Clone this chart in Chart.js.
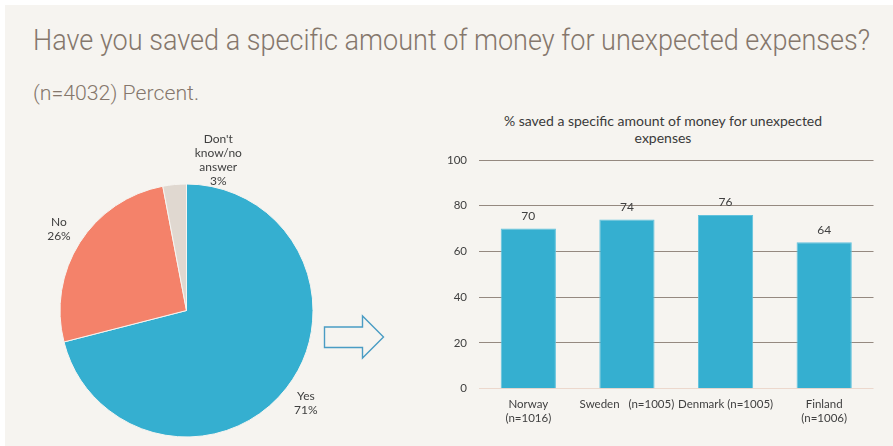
<!DOCTYPE html>
<html>
<head>
<meta charset="utf-8">
<script src="https://cdn.jsdelivr.net/npm/chart.js@4.4.1/dist/chart.umd.min.js"></script>
<style>
  html, body { margin: 0; padding: 0; background: #ffffff; }
  #page { position: relative; width: 893px; height: 446px; overflow: hidden; }
  #panel { position: absolute; left: 5px; top: 5px; right: 0; bottom: 0; background: #f6f4f0; }
  .heading { position: absolute; left: 33px; white-space: nowrap; font-family: Roboto, sans-serif;
             font-weight: 300; color: #85776c; transform-origin: 0 0; line-height: 1; }
  #title { top: 26px; font-size: 29px; }
  #subtitle { top: 83px; font-size: 20px; }
  #barTitle { position: absolute; left: 413px; width: 500px; top: 112px; text-align: center;
              font-family: Lato, sans-serif; font-size: 14px; line-height: 17px; color: #3a3a3a; }
  canvas.full { position: absolute; left: 0; top: 0; }
  #arrow { position: absolute; left: 0; top: 0; }
</style>
</head>
<body>
<div id="page">
  <div id="panel"></div>
  <div id="title" class="heading">Have you saved a specific amount of money for unexpected expenses?</div>
  <div id="subtitle" class="heading">(n=4032) Percent.</div>
  <div id="barTitle">% saved a specific amount of money for unexpected<br>expenses</div>
  <svg id="arrow" width="893" height="446">
    <polygon points="324.5,327 362.5,327 362.5,316 383.5,337 362.5,358 362.5,347.5 324.5,347.5"
             fill="none" stroke="#4a9cc4" stroke-width="1.4" stroke-linejoin="miter"/>
  </svg>
  <div style="position:absolute;left:0;top:0;width:893px;height:446px;">
    <canvas id="pie" class="full" width="893" height="446"></canvas>
  </div>
  <div style="position:absolute;left:0;top:0;width:893px;height:446px;">
    <canvas id="bars" class="full" width="893" height="446"></canvas>
  </div>
</div>
<script>
// Overall answer split (percent)
const answerNames = [['Yes'], ['No'], ["Don't", 'know/no', 'answer']];
const answerShares = [71, 26, 3];
const answerColors = ['#35afd0', '#f4826a', '#e0d8d0'];

// Share who saved, per country
const countryLabels = [['Norway', '(n=1016)'], 'Sweden   (n=1005)', 'Denmark (n=1005)', ['Finland', '(n=1006)']];
const countrySaved = [70, 74, 76, 64];

// Y axis ticks
const yTickMin = 0;
const yTickMax = 100;
const yTickStep = 20;

// Squeeze the headings to the narrow typeface width
function fitHeading(id, target) {
  const el = document.getElementById(id);
  const w = el.getBoundingClientRect().width;
  el.style.transform = 'scaleX(' + (target / w) + ')';
}
fitHeading('title', 837);
fitHeading('subtitle', 166);

const labelFont = '12px Lato, sans-serif';
const labelColor = '#404040';

// Outside labels for the pie slices, placed along each slice's middle angle
const pieLabelPlugin = {
  id: 'pieLabels',
  afterDatasetsDraw(chart, args, opts) {
    const ctx = chart.ctx;
    const meta = chart.getDatasetMeta(0);
    const data = chart.data.datasets[0].data;
    ctx.save();
    ctx.font = labelFont;
    ctx.fillStyle = labelColor;
    ctx.textAlign = 'center';
    ctx.textBaseline = 'middle';
    meta.data.forEach((arc, i) => {
      const mid = (arc.startAngle + arc.endAngle) / 2;
      const r = arc.outerRadius * opts.radiusFactor;
      const shift = (opts.shiftX && opts.shiftX[i]) || 0;
      const cx = arc.x + Math.cos(mid) * r + shift;
      const cy = arc.y + Math.sin(mid) * r;
      const lines = chart.data.labels[i].concat([data[i] + '%']);
      const lh = opts.lineHeight;
      const top = cy - (lines.length - 1) * lh / 2;
      lines.forEach((t, k) => ctx.fillText(t, cx, top + k * lh));
    });
    ctx.restore();
  }
};

new Chart(document.getElementById('pie'), {
  type: 'pie',
  data: {
    labels: answerNames,
    datasets: [{
      data: answerShares,
      backgroundColor: answerColors,
      borderColor: '#f6f4f0',
      borderWidth: 1
    }]
  },
  options: {
    responsive: false,
    animation: false,
    events: [],
    layout: { padding: { left: 59.5, top: 183.5, right: 579.5, bottom: 8.5 } },
    plugins: {
      legend: { display: false },
      tooltip: { enabled: false },
      pieLabels: { radiusFactor: 1.194, lineHeight: 14, shiftX: [0, 0, 46] }
    }
  },
  plugins: [pieLabelPlugin]
});

// Value labels above each bar
const barValuePlugin = {
  id: 'barValues',
  afterDatasetsDraw(chart) {
    const ctx = chart.ctx;
    const meta = chart.getDatasetMeta(0);
    const data = chart.data.datasets[0].data;
    ctx.save();
    ctx.font = labelFont;
    ctx.fillStyle = labelColor;
    ctx.textAlign = 'center';
    ctx.textBaseline = 'middle';
    meta.data.forEach((bar, i) => ctx.fillText(String(data[i]), bar.x, bar.y - 12.5));
    ctx.restore();
  }
};

new Chart(document.getElementById('bars'), {
  type: 'bar',
  data: {
    labels: countryLabels,
    datasets: [{
      data: countrySaved,
      backgroundColor: '#35afd0',
      borderColor: '#62c2dd',
      borderWidth: 1,
      barPercentage: 0.56,
      categoryPercentage: 1
    }]
  },
  options: {
    responsive: false,
    animation: false,
    events: [],
    layout: { padding: { left: 420, top: 160, right: 19.5, bottom: 17.3 } },
    plugins: {
      legend: { display: false },
      tooltip: { enabled: false }
    },
    scales: {
      x: {
        grid: { display: false, drawTicks: false },
        border: { display: false },
        ticks: { font: { family: 'Lato, sans-serif', size: 11.5, lineHeight: 1.22 }, color: labelColor,
                 padding: 9, maxRotation: 0, autoSkip: false },
        afterFit: s => { s.height = 40; }
      },
      y: {
        min: yTickMin,
        max: yTickMax,
        ticks: { stepSize: yTickStep, font: { family: 'Lato, sans-serif', size: 11.5 }, color: labelColor, padding: 12 },
        grid: {
          drawTicks: false,
          lineWidth: 1,
          color: c => (c.tick && c.tick.value === 0) ? '#ecd8cd' : '#958980'
        },
        border: { display: false },
        afterFit: s => { s.width = 59; }
      }
    }
  },
  plugins: [barValuePlugin]
});
</script>
</body>
</html>
